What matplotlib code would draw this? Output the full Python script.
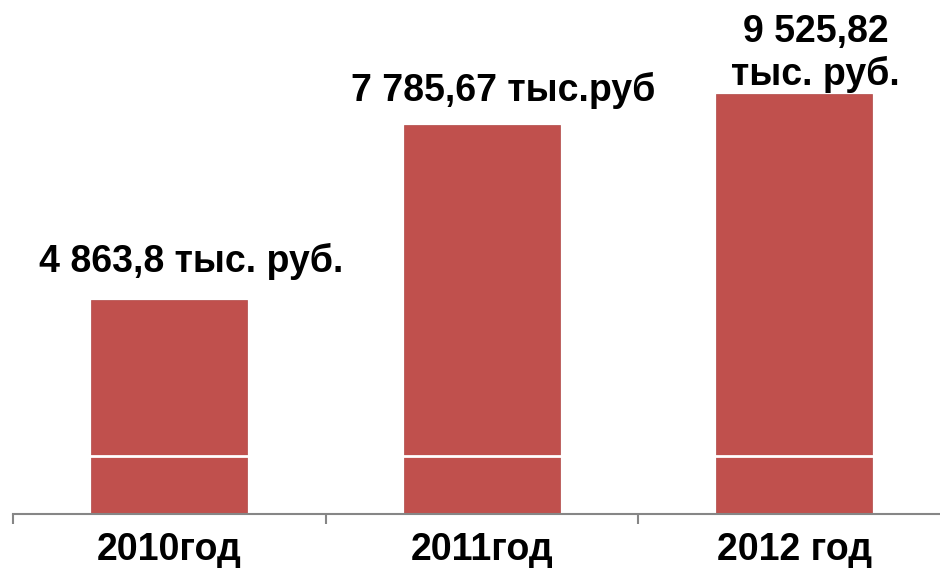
import matplotlib.pyplot as plt

years = ['2010год', '2011год', '2012 год']
# bar heights as drawn in the picture
heights = [4863.8, 8820, 9525.82]
value_labels = ['4 863,8 тыс. руб.', '7 785,67 тыс.руб', '9 525,82\nтыс. руб.']
grid_level = 1315

plt.rcParams['font.family'] = ['Liberation Sans', 'DejaVu Sans']

fig = plt.figure(figsize=(9.4, 5.7), dpi=100)
ax = fig.add_axes([13 / 940, 56 / 570, 937.5 / 940, 514 / 570])

x = list(range(len(years)))
ax.bar(x, heights, width=0.5, color='#C0504D', edgecolor='#B04845', linewidth=0.5, zorder=2)
ax.axhline(grid_level, color='white', linewidth=2, zorder=3)

ax.set_xlim(-0.5, 2.5)
ax.set_ylim(0, 11655)

for s in ['top', 'right', 'left']:
    ax.spines[s].set_visible(False)
ax.spines['bottom'].set_color('#868686')
ax.spines['bottom'].set_linewidth(1.5)
ax.set_yticks([])

ax.set_xticks([-0.5, 0.5, 1.5])
ax.set_xticklabels([])
ax.tick_params(axis='x', which='major', direction='out', length=7, width=1.5, color='#868686')
ax.set_xticks(x, minor=True)
ax.set_xticklabels(years, minor=True, fontsize=27, fontweight='bold')
ax.tick_params(axis='x', which='minor', length=0, pad=13)

gaps = [19.5, 17.3, 6.5]
for i, (h, lab) in enumerate(zip(heights, value_labels)):
    ax.annotate(lab, (i, h), xytext=(15.5, gaps[i]), textcoords='offset points',
                ha='center', va='baseline', fontsize=27, fontweight='bold',
                linespacing=1.2, multialignment='center')

fig.savefig('out.png', dpi=100)
